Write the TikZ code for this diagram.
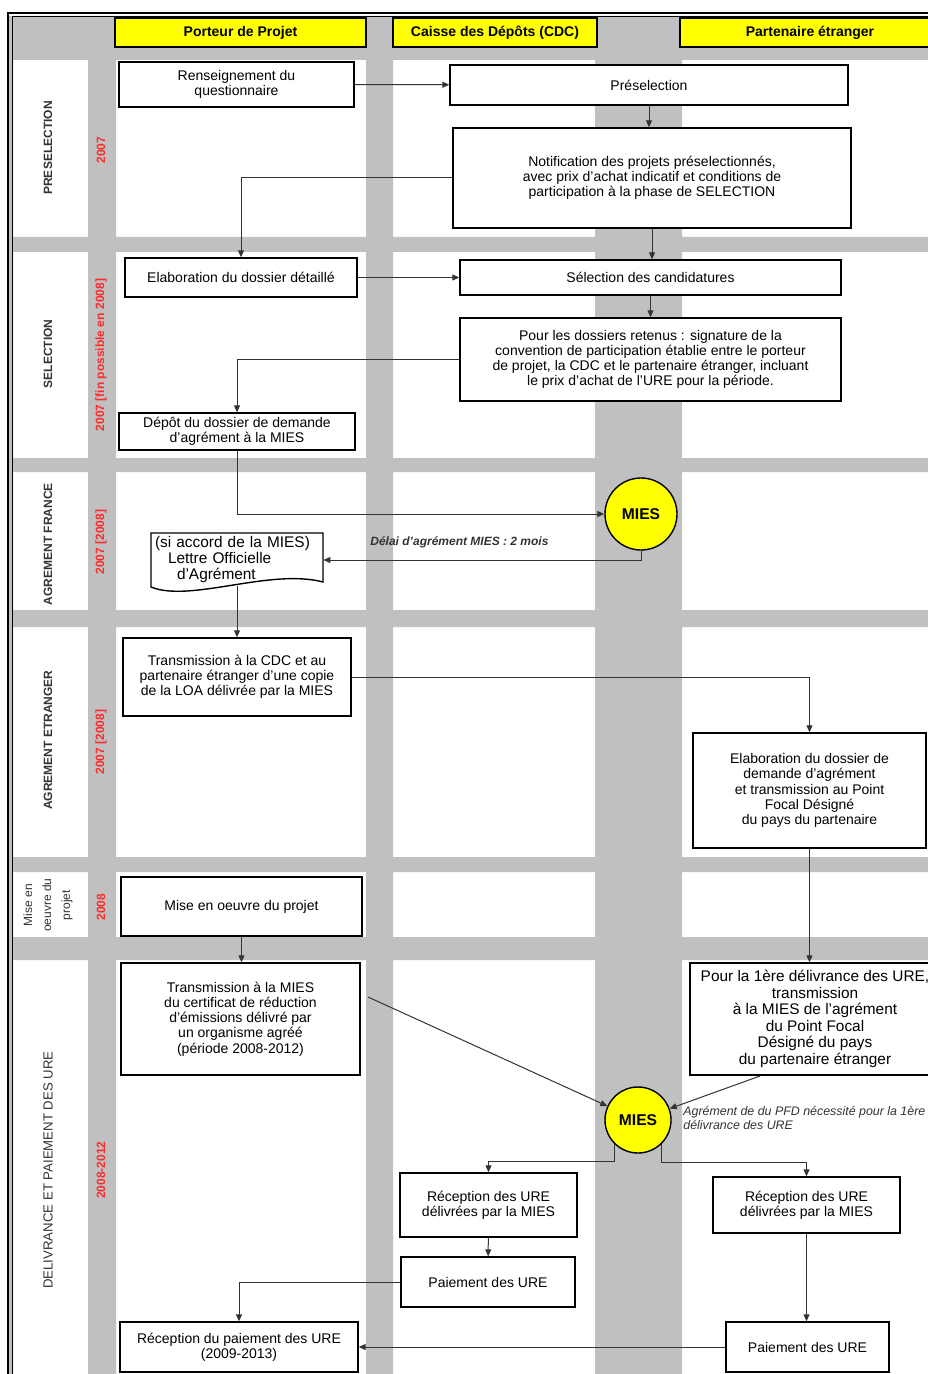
\documentclass[tikz,border=0pt]{standalone}
\usepackage{fontspec}
\setmainfont{Liberation Sans}
\usetikzlibrary{arrows.meta}

\definecolor{bande}{HTML}{C0C0C0}
\definecolor{jaune}{HTML}{FFFF00}
\definecolor{rouge}{HTML}{FF2B2B}

\begin{document}
\begin{tikzpicture}[x=0.5pt, y=-0.5pt,
        boite/.style = {draw, line width=0.7pt, fill=white, align=center, inner sep=1pt, font=\fontsize{7}{7.6}\selectfont},
        entete/.style = {draw, line width=0.7pt, fill=jaune, minimum height=14.5pt, font=\fontsize{7}{8}\selectfont\bfseries},
        cercle/.style = {draw, circle, line width=0.7pt, fill=jaune, minimum size=#1, inner sep=0pt, font=\fontsize{7.8}{9}\selectfont\bfseries},
        phase/.style = {rotate=90, align=center, text=black!80, font=\fontsize{6}{9.5}\selectfont\bfseries},
        annee/.style = {rotate=90, text=rouge, font=\fontsize{6}{7}\selectfont\bfseries},
        remarque/.style = {align=left, inner sep=0pt, text=black!80, font=\fontsize{6.2}{7}\selectfont\itshape},
        fleche/.style = {draw=black!80, line width=0.5pt, -{Triangle[length=3.5pt, width=3pt]}}]
        \useasboundingbox (0,0) rectangle (927,1374);

        % couloirs et bandes
        \fill[bande] (8,16) rectangle (13,1374) (88,16) rectangle (116,1374)
            (366,16) rectangle (393,1374) (595,16) rectangle (682,1374)
            (8,16) rectangle (940,60) (8,237) rectangle (940,252)
            (8,458) rectangle (940,472) (8,610) rectangle (940,627)
            (8,857) rectangle (940,872) (8,937) rectangle (940,960);
        \draw[line width=0.9pt] (8,1374) -- (8,13) -- (940,13);
        \draw[line width=0.5pt] (12,1374) -- (12,16.5) -- (940,16.5);

        \node[entete, minimum width=125.5pt] (porteur) at (240.5,32.5) {Porteur de Projet};
        \node[entete, minimum width=102pt] (cdc) at (495,32.5) {Caisse des Dépôts (CDC)};
        \node[entete, minimum width=130pt] (partenaire) at (810,32.5) {Partenaire étranger};

        \node[phase] (lpresel) at (48,148) {PRESELECTION};
        \node[phase] (lselec) at (48,354) {SELECTION};
        \node[phase] (lfrance) at (48,544) {AGREMENT FRANCE};
        \node[phase] (letranger) at (48,740) {AGREMENT ETRANGER};
        \node[phase, font=\fontsize{6}{9.5}\selectfont] (lmise) at (48,905) {Mise en\\oeuvre du\\projet};
        \node[phase, font=\fontsize{6.6}{8}\selectfont] (ldeliv) at (48,1170) {DELIVRANCE ET PAIEMENT DES URE};

        \node[annee] (a1) at (101,150) {2007};
        \node[annee] (a2) at (101,355) {2007 [fin possible en 2008]};
        \node[annee] (a3) at (101,542) {2007 [2008]};
        \node[annee] (a4) at (101,742) {2007 [2008]};
        \node[annee] (a5) at (101,907) {2008};
        \node[annee] (a6) at (101,1170) {2008-2012};

        \node[boite, minimum width=117.5pt, minimum height=22.5pt] (rens) at (236.5,84.5) {Renseignement du\\questionnaire};
        \node[boite, minimum width=199pt, minimum height=20pt] (presel) at (649,85) {Préselection};
        \node[boite, minimum width=199pt, minimum height=50pt] (notif) at (652,178) {Notification des projets préselectionnés,\\avec prix d'achat indicatif et conditions de\\participation à la phase de SELECTION};
        \node[boite, minimum width=116pt, minimum height=19.5pt] (elab) at (241,277.5) {Elaboration du dossier détaillé};
        \node[boite, minimum width=190.5pt, minimum height=17.5pt] (selec) at (650.5,277.5) {Sélection des candidatures};
        \node[boite, minimum width=190.5pt, minimum height=41.5pt] (conv) at (650.5,359.5) {Pour les dossiers retenus : signature de la\\convention de participation établie entre le porteur\\de projet, la CDC et le partenaire étranger, incluant\\le prix d'achat de l'URE pour la période.};
        \node[boite, minimum width=118pt, minimum height=18.5pt] (depot) at (237,431.5) {Dépôt du dossier de demande\\d'agrément à la MIES};

        \node[cercle=36pt] (mies1) at (641,514) {MIES};
        \filldraw[fill=white, line width=0.7pt] (151,533) -- (323,533) -- (323,582) .. controls (270,568) and (190,603) .. (151,587) -- cycle;
        \node[align=left, text width=82pt, inner xsep=2pt, inner ysep=0pt, minimum height=26pt, font=\fontsize{7.7}{8}\selectfont] (lettre) at (237,560) {(si accord de la MIES)\\\hspace*{6.5pt}Lettre Officielle\\\hspace*{11pt}d'Agrément};
        \node[remarque, anchor=west, font=\fontsize{6}{7}\selectfont\bfseries\itshape] (delai) at (370,542) {Délai d'agrément MIES : 2 mois};

        \node[boite, minimum width=114pt, minimum height=39pt] (transm) at (237,677) {Transmission à la CDC et au\\partenaire étranger d'une copie\\de la LOA délivrée par la MIES};
        \node[boite, minimum width=116.5pt, minimum height=57.5pt] (elabetr) at (809.5,790.5) {Elaboration du dossier de\\demande d'agrément\\et transmission au Point\\Focal Désigné\\du pays du partenaire};
        \node[boite, minimum width=120.5pt, minimum height=29.5pt] (miseoeuvre) at (241.5,906.5) {Mise en oeuvre du projet};
        \node[boite, minimum width=119.5pt, minimum height=56pt] (certif) at (240.5,1019) {Transmission à la MIES\\du certificat de réduction\\d'émissions délivré par\\un organisme agréé\\(période 2008-2012)};
        \node[boite, minimum width=125pt, minimum height=56pt, font=\fontsize{7.7}{8.3}\selectfont] (pfd) at (815,1019) {Pour la 1ère délivrance des URE,\\transmission\\à la MIES de l'agrément\\du Point Focal\\Désigné du pays\\du partenaire étranger};

        \node[cercle=33pt] (mies2) at (638,1120) {MIES};
        \node[remarque, anchor=north west] (pfdnote) at (683,1106) {Agrément de du PFD nécessité pour la 1ère\\délivrance des URE};
        \coordinate (c1) at (368,997);
        \coordinate (c2) at (760,1076);

        \node[boite, minimum width=88.5pt, minimum height=32pt] (recep1) at (488.5,1205) {Réception des URE\\délivrées par la MIES};
        \node[boite, minimum width=87pt, minimum height=25pt] (paie1) at (488,1282) {Paiement des URE};
        \node[boite, minimum width=93.5pt, minimum height=28pt] (recep2) at (806.5,1205) {Réception des URE\\délivrées par la MIES};
        \node[boite, minimum width=119pt, minimum height=25pt] (recpaie) at (239,1347) {Réception du paiement des URE\\(2009-2013)};
        \node[boite, minimum width=81.5pt, minimum height=25pt] (paie2) at (807.5,1347) {Paiement des URE};

        \draw[fleche] (rens) -- (presel);
        \draw[fleche] (presel.south) -- (presel.south |- notif.north);
        \draw[fleche] (notif.west) -| (elab);
        \draw[fleche] (notif.south) -- (notif.south |- selec.north);
        \draw[fleche] (elab) -- (selec);
        \draw[fleche] (selec) -- (conv);
        \draw[fleche] (conv.west) -| (depot);
        \draw[fleche] (depot) |- (mies1);
        \draw[fleche] (mies1) |- (lettre);
        \draw[fleche] (lettre) -- (transm);
        \draw[fleche] (transm) -| (elabetr);
        \draw[fleche] (elabetr.south) -- (elabetr.south |- pfd.north);
        \draw[fleche] (miseoeuvre.south) -- (miseoeuvre.south |- certif.north);
        \draw[fleche] (c1) -- (mies2);
        \draw[fleche] (c2) -- (mies2);
        \draw[fleche] (mies2.-135) -- ++(0,18) -| (recep1);
        \draw[fleche] (mies2.-45) -- ++(0,19) -| (recep2);
        \draw[fleche] (recep1) -- (paie1);
        \draw[fleche] (paie1) -| (recpaie);
        \draw[fleche] (recep2.south) -- (recep2.south |- paie2.north);
        \draw[fleche] (paie2) -- (recpaie);
    \end{tikzpicture}
\end{document}
